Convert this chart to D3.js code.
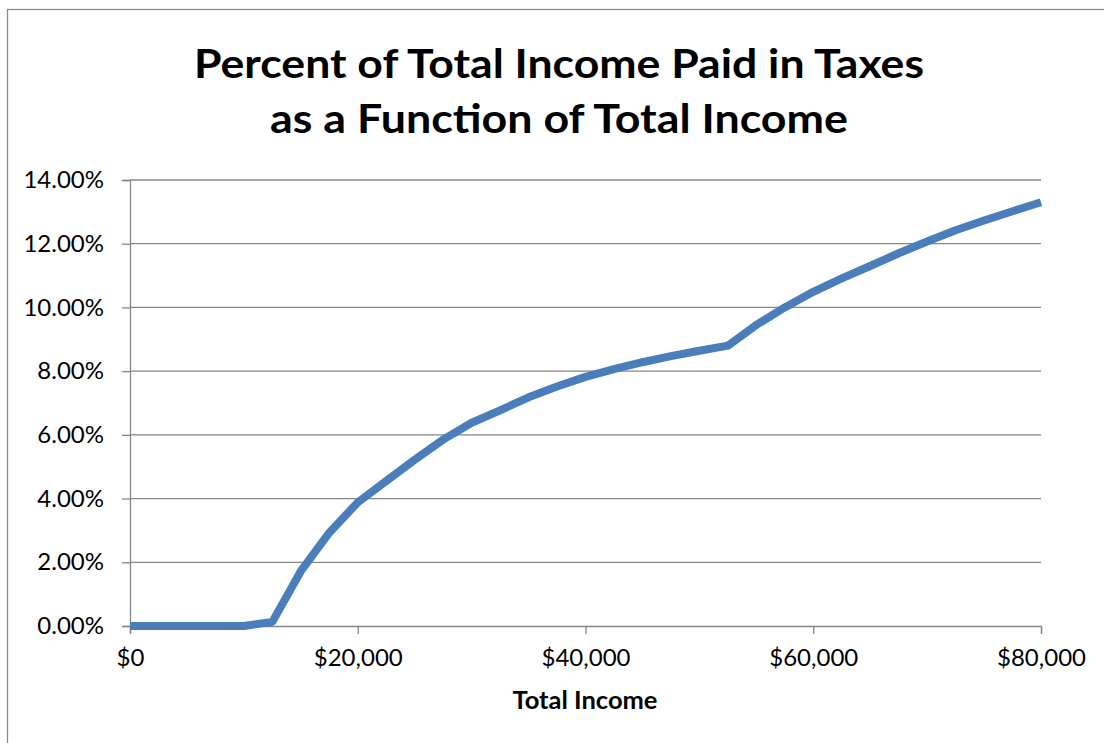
<!DOCTYPE html>
<html>
<head>
<meta charset="utf-8">
<script src="https://cdn.jsdelivr.net/npm/d3@7/dist/d3.min.js"></script>
<style>
  html, body { margin: 0; padding: 0; background: #fff; }
  svg { display: block; }
  text { font-family: Lato, "Open Sans", "DejaVu Sans", sans-serif; fill: #000; }
</style>
</head>
<body>
<svg id="chart" width="1104" height="743"></svg>
<script>
// Total income in dollars
const incomes = [0, 2500, 5000, 7500, 10000, 12500, 15000, 17500, 20000, 22500,
  25000, 27500, 30000, 32500, 35000, 37500, 40000, 42500, 45000, 47500,
  50000, 52500, 55000, 57500, 60000, 62500, 65000, 67500, 70000, 72500,
  75000, 77500, 80000];
// Share of total income paid in taxes (fraction)
const taxShare = [0, 0, 0, 0, 0, 0.0013, 0.0172, 0.0293, 0.0388, 0.0455,
  0.0522, 0.0585, 0.0638, 0.0677, 0.0718, 0.0752, 0.0782, 0.0806, 0.0828, 0.0847,
  0.0864, 0.0880, 0.0945, 0.1000, 0.1049, 0.1091, 0.1130, 0.1170, 0.1207, 0.1242,
  0.1273, 0.1302, 0.1330];
const xTicks = [0, 20000, 40000, 60000, 80000];
const yTicks = [0, 0.02, 0.04, 0.06, 0.08, 0.10, 0.12, 0.14];
const titleLines = ["Percent of Total Income Paid in Taxes", "as a Function of Total Income"];
const xTitle = "Total Income";

const svg = d3.select("#chart");
const gridColor = "#868686";

// outer chart frame (runs past the right and bottom edges)
svg.append("rect")
  .attr("x", 7.5).attr("y", 9.5)
  .attr("width", 1120).attr("height", 760)
  .attr("fill", "none").attr("stroke", "#8c8c8c").attr("stroke-width", 1.3);

const x = d3.scaleLinear().domain([0, 80000]).range([130, 1041]);
const y = d3.scaleLinear().domain([0, 0.14]).range([626, 180]);

// title
svg.append("g").selectAll("text")
  .data(titleLines).join("text")
  .attr("x", 559)
  .attr("y", (d, i) => 78 + i * 55)
  .attr("text-anchor", "middle")
  .attr("font-size", 41)
  .attr("font-weight", 700)
  .attr("textLength", (d, i) => i === 0 ? 730 : 578)
  .attr("lengthAdjust", "spacingAndGlyphs")
  .text(d => d);

// horizontal gridlines
svg.append("g").selectAll("line")
  .data(yTicks.slice(1)).join("line")
  .attr("x1", x(0)).attr("x2", x(80000))
  .attr("y1", d => y(d)).attr("y2", d => y(d))
  .attr("stroke", gridColor).attr("stroke-width", 1.3);

// y axis
const yAxis = d3.axisLeft(y).tickValues(yTicks)
  .tickFormat(d3.format(".2%")).tickSize(8).tickPadding(18);
const gy = svg.append("g").attr("transform", `translate(${x(0)},0)`).call(yAxis);
gy.select(".domain").attr("stroke", gridColor).attr("stroke-width", 1.3);
gy.selectAll(".tick line").attr("stroke", gridColor).attr("stroke-width", 1.3);
gy.selectAll(".tick text").attr("font-size", 24).attr("font-family", "Lato, sans-serif").attr("fill", "#000");

// x axis
const xAxis = d3.axisBottom(x).tickValues(xTicks)
  .tickFormat(d => "$" + d3.format(",")(d)).tickSize(8).tickPadding(15);
const gx = svg.append("g").attr("transform", `translate(0,${y(0)})`).call(xAxis);
gx.select(".domain").attr("stroke", gridColor).attr("stroke-width", 1.3);
gx.selectAll(".tick line").attr("stroke", gridColor).attr("stroke-width", 1.3);
gx.selectAll(".tick text").attr("font-size", 24).attr("font-family", "Lato, sans-serif").attr("fill", "#000");

// x axis title
svg.append("text")
  .attr("x", 585).attr("y", 709)
  .attr("text-anchor", "middle")
  .attr("font-size", 24).attr("font-weight", 700)
  .attr("textLength", 145)
  .attr("lengthAdjust", "spacingAndGlyphs")
  .text(xTitle);

// tax share line
const points = incomes.map((v, i) => [v, taxShare[i]]);
svg.append("path")
  .datum(points)
  .attr("fill", "none")
  .attr("stroke", "#4A7EBB")
  .attr("stroke-width", 8)
  .attr("stroke-linejoin", "round")
  .attr("d", d3.line().x(d => x(d[0])).y(d => y(d[1])));
</script>
</body>
</html>
